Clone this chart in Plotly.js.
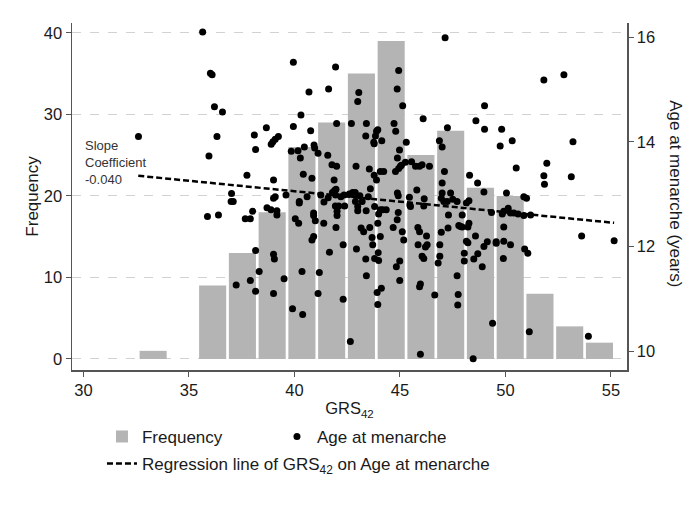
<!DOCTYPE html>
<html>
<head>
<meta charset="utf-8">
<script src="https://cdn.plot.ly/plotly-3.0.1.min.js"></script>
<style>
  html, body { margin: 0; padding: 0; background: #fff; }
  #chart { width: 699px; height: 511px; }
</style>
</head>
<body>
<div id="chart"></div>
<script>
// histogram of GRS42 (bins)
const binStart = 32.6;
const binWidth = 1.41;
const binCounts = [1, 0, 9, 13, 18, 26, 29, 35, 39, 25, 28, 21, 20, 8, 4, 2];

// individual observations: GRS42 score and age at menarche (years)
const grs = [
  32.61,
  35.65, 36.02, 36.10, 36.21, 36.59, 36.33, 35.95, 35.88, 36.40,
  37.75, 37.02, 37.00, 37.10, 37.67, 37.91, 38.02, 38.10, 38.16, 38.16, 37.24, 37.91, 38.16,
  38.67, 39.24, 39.09, 38.98, 38.90, 39.01, 38.70, 38.89, 39.17, 39.17, 39.01, 39.09, 39.01, 39.05, 38.33, 39.51, 39.01, 39.60,
  39.95, 39.95, 40.69, 40.31, 40.77, 40.17, 40.47, 40.93, 40.96, 40.28, 40.42, 40.83, 40.04, 40.20, 39.91, 40.39, 40.36, 40.23, 40.23, 40.91, 40.91, 40.99, 40.91, 40.83, 39.85, 40.60,
  41.95, 41.62, 42.00, 41.12, 41.58, 41.78, 42.00, 41.88, 41.97, 41.90, 41.12, 41.18, 41.40, 41.94, 42.10, 42.02, 42.02, 41.39, 41.97, 42.38, 42.31, 41.66, 42.31, 41.80, 41.95, 42.35, 41.25, 41.60, 42.20,
  43.05, 43.00, 42.70, 43.41, 43.38, 43.84, 43.78, 43.76, 42.92, 43.55, 43.78, 42.88, 42.76, 42.89, 43.00, 43.00, 43.21, 43.40, 43.80, 43.16, 43.28, 43.57, 42.94, 43.68, 43.71, 43.38, 43.41, 43.80, 42.65, 42.60, 42.75, 42.85, 43.10, 43.50, 43.60,
  44.94, 44.87, 45.13, 44.72, 44.80, 43.89, 43.95, 44.14, 43.89, 44.98, 44.88, 45.02, 45.07, 44.94, 44.79, 44.07, 44.23, 45.26, 44.88, 43.97, 43.95, 43.99, 44.07, 44.18, 44.35, 44.07, 43.92, 44.12, 43.95, 43.99, 44.68, 44.87, 44.92, 44.92, 45.11, 45.18, 44.99, 44.83, 44.99,
  46.10, 45.30, 45.55, 45.74, 45.93, 46.05, 46.40, 45.80, 45.45, 45.47, 45.50, 45.85, 45.93, 45.86, 46.05, 46.13, 46.21, 46.29, 46.26, 45.93, 45.97, 45.97, 46.15, 46.13, 46.65,
  47.14, 47.25, 46.87, 47.00, 47.11, 47.00, 47.40, 47.00, 46.96, 46.89, 46.89, 46.81, 47.28, 46.96, 47.08, 47.24, 47.71, 47.76, 47.74, 47.79, 47.71, 47.95, 47.87, 47.95, 48.05, 48.05, 47.50, 47.30,
  48.60, 49.01, 49.01, 48.30, 48.68, 48.98, 48.15, 48.27, 48.22, 48.27, 48.15, 48.22, 48.58, 48.50, 48.69, 48.90, 48.98, 49.14, 48.47, 49.39, 49.34,
  49.82, 50.32, 49.75, 50.51, 50.05, 49.56, 49.56, 49.92, 49.92, 50.24, 49.90, 49.85, 49.92, 50.13, 50.24, 50.40, 50.87, 50.87, 50.91, 50.60,
  51.82, 51.96, 51.82, 51.85, 51.00, 51.19, 51.06, 51.13,
  52.77, 53.20, 53.12, 53.61,
  53.93, 55.15
];
const age = [
  14.10,
  16.10, 15.31, 15.28, 14.67, 14.57, 14.10, 13.73, 12.57, 12.60,
  13.36, 13.01, 12.86, 12.86, 12.53, 12.53, 12.67, 14.13, 13.85, 11.92, 11.26, 11.35, 11.14,
  14.27, 14.10, 14.05, 14.00, 13.95, 13.27, 12.74, 12.70, 12.68, 12.60, 12.92, 12.95, 11.85, 11.76, 11.52, 11.38, 11.10, 12.98,
  15.52, 14.29, 14.95, 14.51, 14.21, 13.83, 13.90, 13.94, 13.88, 13.69, 13.38, 13.30, 12.53, 12.44, 10.81, 10.70, 11.52, 12.86, 12.83, 12.64, 12.59, 12.49, 12.19, 12.12, 13.82, 12.95,
  15.43, 15.01, 14.35, 13.78, 13.74, 13.56, 13.53, 13.27, 13.09, 13.07, 11.10, 11.50, 12.85, 12.77, 12.77, 12.67, 12.59, 12.44, 12.36, 12.77, 12.03, 11.89, 10.99, 13.03, 12.98, 12.98, 12.98, 12.93, 12.95,
  14.94, 14.77, 14.35, 14.35, 14.11, 14.11, 13.96, 13.99, 13.53, 13.48, 13.36, 13.03, 13.03, 12.86, 12.76, 12.68, 12.86, 12.68, 12.76, 12.35, 12.28, 12.36, 11.95, 12.17, 12.03, 11.76, 11.44, 11.77, 10.18, 13.00, 12.99, 12.98, 12.97, 12.95, 13.10,
  15.36, 15.01, 14.69, 14.35, 14.20, 14.20, 14.23, 14.02, 13.27, 13.84, 13.69, 13.53, 13.55, 13.49, 13.43, 13.43, 13.43, 13.61, 13.02, 11.88, 12.44, 12.62, 12.70, 12.70, 12.70, 12.19, 11.12, 11.20, 10.89, 11.73, 12.36, 12.51, 12.65, 12.97, 12.28, 12.12, 11.72, 11.61, 11.35,
  14.44, 13.99, 13.62, 13.53, 13.53, 13.56, 13.53, 13.08, 12.94, 12.79, 12.76, 12.36, 12.28, 12.03, 11.81, 11.77, 11.99, 12.03, 12.20, 11.23, 11.28, 9.94, 12.91, 12.77, 11.07,
  15.99, 14.27, 14.02, 13.90, 13.43, 13.21, 13.02, 13.02, 12.27, 12.03, 11.81, 11.68, 12.35, 12.92, 12.86, 12.86, 11.44, 11.08, 10.88, 12.40, 12.86, 12.60, 12.38, 12.37, 11.87, 11.72, 12.90, 12.60,
  14.40, 14.69, 14.24, 13.36, 13.21, 13.04, 12.83, 12.87, 12.37, 12.44, 12.10, 12.07, 12.20, 11.76, 11.86, 11.61, 12.00, 12.09, 9.85, 10.53, 12.65,
  14.24, 14.02, 13.92, 13.50, 13.02, 12.09, 12.06, 12.37, 12.10, 12.03, 11.77, 12.62, 12.67, 12.73, 12.64, 12.64, 12.95, 12.59, 11.95, 12.62,
  15.18, 13.59, 13.35, 13.19, 12.92, 12.60, 11.87, 10.37,
  15.28, 14.00, 13.33, 12.20,
  10.28, 12.11
];

// fitted regression line, read at both ends of the GRS42 range
const regX = [32.6, 55.15];
const regY = [13.35, 12.45];
const slopeLabel = '-0.040';

const font = 'Liberation Sans, Arial, sans-serif';
const ink = '#1a1a1a';
const axisCol = '#555555';

const bars = {
  type: 'bar',
  name: 'Frequency',
  x0: binStart + binWidth / 2,
  dx: binWidth,
  y: binCounts,
  width: binWidth * 0.91,
  marker: {color: '#b4b4b4', line: {width: 0}},
  yaxis: 'y',
  legend: 'legend',
  hoverinfo: 'skip'
};

const points = {
  type: 'scatter',
  mode: 'markers',
  name: 'Age at menarche',
  x: grs,
  y: age,
  yaxis: 'y2',
  legend: 'legend',
  marker: {color: '#000000', size: 7}
};

const regression = {
  type: 'scatter',
  mode: 'lines',
  name: 'Regression line of GRS<sub>42</sub> on Age at menarche',
  x: regX,
  y: regY,
  yaxis: 'y2',
  legend: 'legend2',
  line: {color: '#000000', width: 2.5, dash: '6px,3px'}
};

const legendFont = {family: font, size: 17, color: ink};

const layout = {
  width: 699,
  height: 511,
  margin: {l: 72, r: 72, t: 23, b: 141},
  paper_bgcolor: '#ffffff',
  plot_bgcolor: '#ffffff',
  font: {family: font, size: 16, color: ink},
  showlegend: true,
  legend: {
    orientation: 'h',
    x: 0.054, xanchor: 'left',
    y: -0.141, yanchor: 'top',
    font: legendFont,
    entrywidth: 130,
    traceorder: 'normal'
  },
  legend2: {
    orientation: 'h',
    x: 0.054, xanchor: 'left',
    y: -0.219, yanchor: 'top',
    font: legendFont
  },
  xaxis: {
    range: [29.46, 55.76],
    tick0: 30,
    dtick: 5,
    ticks: 'outside',
    ticklen: 5,
    tickcolor: axisCol,
    showline: true,
    linecolor: axisCol,
    linewidth: 1.5,
    showgrid: false,
    zeroline: false,
    tickfont: {family: font, size: 16.5, color: ink},
    title: {text: 'GRS<sub>42</sub>', font: {family: font, size: 16.5, color: ink}, standoff: 4}
  },
  yaxis: {
    range: [-1.35, 41.2],
    tick0: 0,
    dtick: 10,
    ticks: 'outside',
    ticklen: 5,
    tickcolor: axisCol,
    showline: true,
    linecolor: axisCol,
    linewidth: 1.5,
    showgrid: true,
    gridcolor: '#d2d2d2',
    griddash: 'dash',
    zeroline: false,
    tickfont: {family: font, size: 16.5, color: ink},
    title: {text: 'Frequency', font: {family: font, size: 17, color: ink}, standoff: 1}
  },
  yaxis2: {
    overlaying: 'y',
    side: 'right',
    range: [9.637, 16.27],
    tick0: 10,
    dtick: 2,
    ticks: 'outside',
    ticklen: 5,
    tickcolor: axisCol,
    showline: true,
    linecolor: axisCol,
    linewidth: 1.5,
    showgrid: false,
    zeroline: false,
    tickfont: {family: font, size: 16.5, color: ink}
  },
  annotations: [
    {
      xref: 'paper', yref: 'paper',
      x: 1.088, y: 0.507,
      xanchor: 'center', yanchor: 'middle',
      text: 'Age at menarche (years)',
      textangle: 90,
      showarrow: false,
      font: {family: font, size: 17, color: ink}
    },
    {
      xref: 'x', yref: 'y',
      x: 30, y: 24.1,
      xanchor: 'left', yanchor: 'middle',
      align: 'left',
      text: 'Slope<br>Coefficient<br>' + slopeLabel,
      showarrow: false,
      font: {family: font, size: 13, color: '#333333'}
    }
  ]
};

Plotly.newPlot('chart', [bars, points, regression], layout, {displayModeBar: false, staticPlot: true});
</script>
</body>
</html>
